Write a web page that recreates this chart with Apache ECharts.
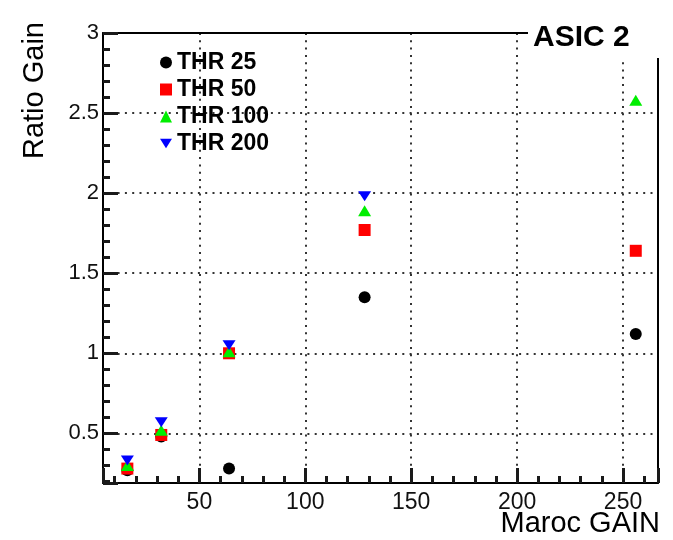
<!DOCTYPE html>
<html>
<head>
<meta charset="utf-8">
<script src="https://cdn.jsdelivr.net/npm/echarts@6/dist/echarts.min.js"></script>
<style>
html,body{margin:0;padding:0;background:#fff;}
#c{width:673px;height:540px;}
</style>
</head>
<body>
<div id="c"></div>
<script>
// Data
var gains = [16, 32, 64, 128, 256];
var thr25 = [0.27, 0.48, 0.28, 1.35, 1.12];
var thr50 = [0.28, 0.49, 1.00, 1.77, 1.64];
var thr100 = [0.30, 0.52, 1.01, 1.89, 2.58];
var thr200 = [0.33, 0.57, 1.05, 1.98];
var seriesNames = ['THR 25', 'THR 50', 'THR 100', 'THR 200'];
var xTickLabels = [50, 100, 150, 200, 250];
var yTickLabels = [0.5, 1, 1.5, 2, 2.5, 3];

function pairs(vals) {
  var out = [];
  for (var i = 0; i < vals.length; i++) out.push([gains[i], vals[i]]);
  return out;
}

var FONT = 'Liberation Sans, Arial, Helvetica, sans-serif';
var TICK_COLOR = '#1a1a1a';
var chart = echarts.init(document.getElementById('c'), null, {renderer: 'canvas'});
function dotted() { return {color: '#333', width: 2, type: [2, 5.3]}; }
function axLine() { return {show: true, onZero: false, lineStyle: {color: '#000', width: 2}}; }
function majTick() { return {show: true, inside: true, length: 15, lineStyle: {color: TICK_COLOR, width: 3}}; }
function minTick() { return {show: true, splitNumber: 5, length: 7, lineStyle: {color: TICK_COLOR, width: 3}}; }
var X_MIN = 4.5, X_MAX = 266.5, Y_MIN = 0.19, Y_MAX = 3;

var option = {
  animation: false,
  backgroundColor: '#fff',
  grid: {left: 103, right: 15, top: 33, bottom: 57},
  xAxis: [{
    type: 'value', min: X_MIN, max: X_MAX, minInterval: 50, maxInterval: 50,
    axisLine: axLine(), axisTick: majTick(), minorTick: minTick(),
    splitLine: {show: true, lineStyle: dotted()},
    axisLabel: {
      margin: 8, color: '#111', fontFamily: FONT, fontSize: 23,
      formatter: function (v) { return xTickLabels.indexOf(v) >= 0 ? String(v) : ''; }
    }
  }, {
    type: 'value', position: 'top', min: X_MIN, max: X_MAX, minInterval: 50, maxInterval: 50,
    axisLine: axLine(), axisTick: {show: false}, axisLabel: {show: false}, splitLine: {show: false}
  }],
  yAxis: [{
    type: 'value', min: Y_MIN, max: Y_MAX, minInterval: 0.5, maxInterval: 0.5,
    axisLine: axLine(), axisTick: majTick(), minorTick: minTick(),
    splitLine: {show: true, lineStyle: dotted()},
    axisLabel: {
      margin: 4, color: '#111', fontFamily: FONT, fontSize: 22,
      formatter: function (v) {
        var r = Math.round(v * 100) / 100;
        return yTickLabels.indexOf(r) >= 0 ? String(r) : '';
      }
    }
  }, {
    type: 'value', position: 'right', min: Y_MIN, max: Y_MAX, minInterval: 0.5, maxInterval: 0.5,
    axisLine: axLine(), axisTick: {show: false}, axisLabel: {show: false}, splitLine: {show: false}
  }],
  legend: {
    orient: 'vertical', left: 155, top: 44, itemWidth: 12, itemHeight: 12, itemGap: 0, itemTextGap: 13,
    textStyle: {fontFamily: FONT, fontSize: 23, fontWeight: 'bold', color: '#000', lineHeight: 27},
    data: seriesNames
  },
  series: [
    {name: seriesNames[0], type: 'scatter', symbol: 'circle', symbolSize: 12, itemStyle: {color: '#000', opacity: 1}, data: pairs(thr25)},
    {name: seriesNames[1], type: 'scatter', symbol: 'rect', symbolSize: 12, itemStyle: {color: '#ff0000', opacity: 1}, data: pairs(thr50)},
    {name: seriesNames[2], type: 'scatter', symbol: 'triangle', symbolSize: [13, 11], itemStyle: {color: '#00ee00', opacity: 1}, data: pairs(thr100)},
    {name: seriesNames[3], type: 'scatter', symbol: 'path://M0,0 L10,0 L5,8 Z', symbolSize: [13, 10], itemStyle: {color: '#0000ff', opacity: 1}, data: pairs(thr200)}
  ],
  graphic: [
    {type: 'rect', z: 100, shape: {x: 528, y: 8, width: 145, height: 50}, style: {fill: '#fff'}},
    {type: 'text', z: 101, x: 533, y: 38, style: {text: 'ASIC 2', font: 'bold 30px ' + FONT, fill: '#000', align: 'left', verticalAlign: 'middle'}},
    {type: 'text', z: 101, x: 35, y: 22, rotation: Math.PI / 2, style: {text: 'Ratio Gain', font: '29px ' + FONT, fill: '#000', align: 'right', verticalAlign: 'middle'}},
    {type: 'text', z: 101, x: 660, y: 524, style: {text: 'Maroc GAIN', font: '29px ' + FONT, fill: '#000', align: 'right', verticalAlign: 'middle'}}
  ]
};
chart.setOption(option);
</script>
</body>
</html>
